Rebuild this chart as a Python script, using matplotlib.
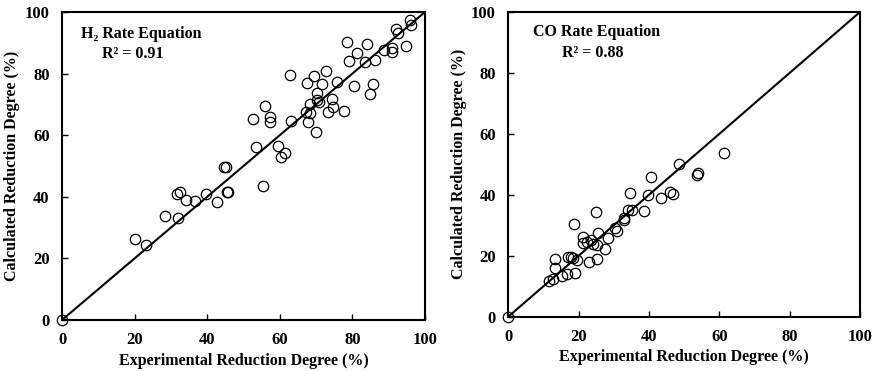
import matplotlib
matplotlib.use('Agg')
import matplotlib.pyplot as plt

plt.rcParams['font.family'] = ['Liberation Serif', 'DejaVu Serif']
plt.rcParams['font.weight'] = 'bold'

# H2 rate equation: experimental vs calculated reduction degree (%)
h2_exp = [0, 20.1, 23.1, 28.5, 32.0, 31.6, 32.5, 34.1, 36.6, 39.6, 42.8,
          44.6, 45.2, 45.5, 45.8, 53.5, 55.5, 59.6, 60.4, 61.4, 70.0,
          52.5, 55.9, 57.4, 57.4, 63.2, 62.8, 67.1, 67.8, 68.4, 67.4,
          69.4, 71.6, 70.2, 70.2, 68.3, 70.8, 72.6, 73.2, 74.5, 74.7,
          75.8, 77.8, 79.0, 78.6, 80.4, 81.4, 83.4, 84.1, 85.8, 84.8,
          86.2, 88.7, 90.8, 90.8, 94.9, 91.9, 92.6, 95.9, 96.1]
h2_calc = [0, 26.3, 24.3, 33.8, 33.1, 40.9, 41.7, 38.9, 38.5, 40.9, 38.2,
           49.8, 49.8, 41.6, 41.6, 56.2, 43.5, 56.5, 53.0, 54.3, 61.0,
           65.3, 69.5, 65.8, 64.4, 64.7, 79.5, 67.4, 64.2, 70.1, 77.1,
           79.3, 76.6, 73.6, 71.4, 67.1, 70.8, 80.8, 67.4, 71.8, 69.3,
           77.3, 67.9, 84.1, 90.2, 76.1, 86.6, 83.9, 89.6, 76.5, 73.3,
           84.4, 87.7, 88.2, 87.1, 88.8, 94.5, 93.2, 97.4, 95.8]

# CO rate equation
co_exp = [0, 11.7, 12.8, 13.3, 13.3, 15.2, 16.6, 19.0, 17.1, 17.8, 18.5,
          19.5, 18.7, 21.3, 21.3, 22.5, 23.0, 23.4, 24.2, 25.4, 25.1,
          25.3, 27.5, 28.4, 30.4, 30.8, 33.0, 24.8, 32.9, 34.1, 35.3,
          34.6, 38.6, 39.8, 40.5, 43.4, 46.0, 46.8, 48.4, 53.6, 54.0, 61.3]
co_calc = [0, 11.7, 12.3, 15.9, 18.9, 13.4, 13.9, 14.5, 19.7, 19.7, 19.4,
           18.6, 30.4, 26.3, 24.1, 24.6, 18.0, 25.2, 23.9, 27.4, 23.5,
           18.8, 22.1, 25.7, 29.0, 28.2, 31.8, 34.2, 32.3, 35.1, 34.9,
           40.6, 34.7, 39.8, 46.0, 39.1, 40.9, 40.4, 50.2, 46.4, 47.2, 53.6]

# data, title, R2 text, axes box, text baselines (axes fraction)
panels = [
    (h2_exp, h2_calc, 'H\u2082 Rate Equation', 'R\u00b2 = 0.91',
     (0.0707, 0.4846, 0.1375), (0.218, 0.915), (0.195, 0.852)),
    (co_exp, co_calc, 'CO Rate Equation', 'R\u00b2 = 0.88',
     (0.5796, 0.9806, 0.1464), (0.251, 0.922), (0.241, 0.852)),
]

fig = plt.figure(figsize=(8.77, 3.71), dpi=100)

for xs, ys, title, r2, box, tpos, rpos in panels:
    left, right, bottom = box
    ax = fig.add_axes([left, bottom, right - left, 0.9677 - bottom])
    ax.plot([0, 100], [0, 100], color='black', lw=1.5, zorder=1)
    ax.plot(xs, ys, 'o', ms=7.5, mfc='none', mec='black', mew=0.9,
            clip_on=False, zorder=2)
    ax.set_xlim(0, 100)
    ax.set_ylim(0, 100)
    ax.set_xticks(range(0, 101, 20))
    ax.set_yticks(range(0, 101, 20))
    ax.tick_params(direction='in', length=4, width=1, labelsize=12, pad=9)
    for lab in ax.get_xticklabels() + ax.get_yticklabels():
        lab.set_fontweight('bold')
    for sp in ax.spines.values():
        sp.set_linewidth(1.5)
    ax.set_xlabel('Experimental Reduction Degree (%)', fontsize=11.5,
                  fontweight='bold', labelpad=3)
    ax.set_ylabel('Calculated Reduction Degree (%)', fontsize=11.5,
                  fontweight='bold', labelpad=3)
    ax.text(tpos[0], tpos[1], title, transform=ax.transAxes, ha='center',
            va='baseline', fontsize=11.5, fontweight='bold')
    ax.text(rpos[0], rpos[1], r2, transform=ax.transAxes, ha='center',
            va='baseline', fontsize=11.5, fontweight='bold')

fig.savefig('out.png', dpi=100)
